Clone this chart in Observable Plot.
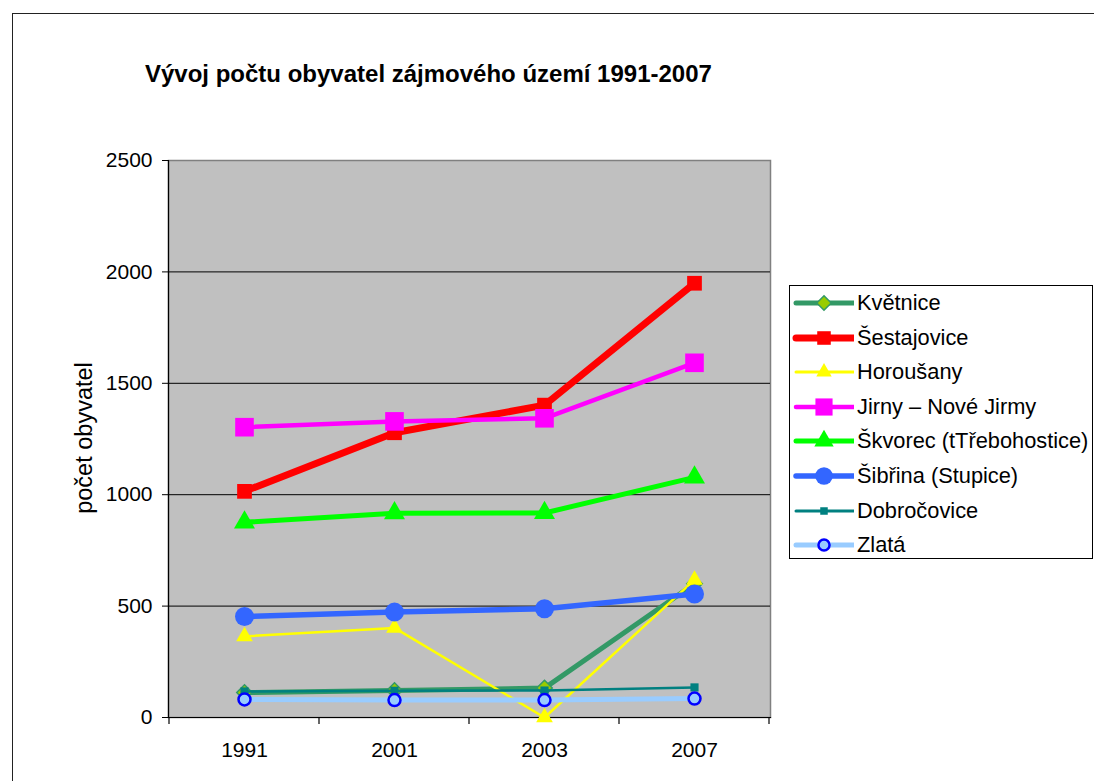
<!DOCTYPE html>
<html>
<head>
<meta charset="utf-8">
<script src="https://cdn.jsdelivr.net/npm/d3@7"></script>
<script src="https://cdn.jsdelivr.net/npm/@observablehq/plot@0.6"></script>
<style>
  body { margin: 0; background: #fff; font-family: "Liberation Sans", Arial, sans-serif; }
  #wrap { position: relative; width: 1094px; height: 781px; overflow: hidden; background: #fff; }
  #border { position: absolute; left: 12px; top: 13px; width: 1200px; height: 900px; border: 1px solid #222; box-sizing: border-box; }
  #chart { position: absolute; left: 0; top: 0; }
  #title { position: absolute; left: 145px; top: 62px; font-weight: bold; font-size: 24px; line-height: 24px; white-space: nowrap; color: #000; }
  #ylabel { position: absolute; left: 83.5px; top: 437.5px; transform: translate(-50%, -50%) rotate(-90deg); font-size: 23.5px; line-height: 23px; white-space: nowrap; color: #000; }
  #legend { position: absolute; left: 789px; top: 285px; width: 304px; height: 274px; border: 1px solid #000; box-sizing: border-box; background: #fff; }
  .row { position: absolute; left: 0; height: 34px; display: flex; align-items: center; }
  .row svg { display: block; }
  .row span { font-size: 21.8px; margin-left: 3px; white-space: nowrap; color: #000; }
</style>
</head>
<body>
<div id="wrap">
  <div id="border"></div>
  <div id="chart"></div>
  <div id="title">Vývoj počtu obyvatel zájmového území 1991-2007</div>
  <div id="ylabel">počet obyvatel</div>
  <div id="legend"></div>
</div>
<script>
// ---- data ----
const years = ["1991", "2001", "2003", "2007"];
const seriesNames = ["Květnice", "Šestajovice", "Horoušany", "Jirny – Nové Jirmy", "Škvorec (tTřebohostice)", "Šibřina (Stupice)", "Dobročovice", "Zlatá"];
const kvetnice    = [112, 121, 132, 600];
const sestajovice = [1015, 1278, 1402, 1949];
const horousany   = [364, 402, 0, 618];
const jirny       = [1303, 1329, 1343, 1592];
const skvorec     = [876, 917, 918, 1078];
const sibrina     = [453, 473, 488, 554];
const dobrocovice = [117, 120, 121, 135];
const zlata       = [81, 78, 78, 85];
const yTicks = [0, 500, 1000, 1500, 2000, 2500];

// ---- styles (kept apart from data) ----
const styles = [
  {stroke: "#339966", width: 5,   symbol: "diamond2", r: 7,   fill: "#99CC00", mstroke: "#339966", msw: 1.5},
  {stroke: "#FF0000", width: 7,   symbol: "square",   r: 8.3, fill: "#FF0000", mstroke: "none",    msw: 0},
  {stroke: "#FFFF00", width: 2.5, symbol: "triangle", r: 6.2, fill: "#FFFF00", mstroke: "none",    msw: 0},
  {stroke: "#FF00FF", width: 4.5, symbol: "square",   r: 10.5,fill: "#FF00FF", mstroke: "none",    msw: 0},
  {stroke: "#00FF00", width: 5,   symbol: "triangle", r: 7.8, fill: "#00FF00", mstroke: "none",    msw: 0},
  {stroke: "#3366FF", width: 5.5, symbol: "circle",   r: 9.5, fill: "#3366FF", mstroke: "none",    msw: 0},
  {stroke: "#008080", width: 2.5, symbol: "square",   r: 4.6, fill: "#008080", mstroke: "none",    msw: 0},
  {stroke: "#99CCFF", width: 5,   symbol: "circle",   r: 6,   fill: "#99CCFF", mstroke: "#0000FF", msw: 2.5}
];

const allValues = [kvetnice, sestajovice, horousany, jirny, skvorec, sibrina, dobrocovice, zlata];
const tables = allValues.map((vals, i) => years.map((yr, j) => ({series: seriesNames[i], year: yr, value: vals[j]})));

const marks = [
  Plot.frame({fill: "#C0C0C0", stroke: "#808080", strokeWidth: 1.5}),
  Plot.ruleY(yTicks.filter(v => v > yTicks[0] && v < yTicks[yTicks.length - 1]), {stroke: "#000", strokeWidth: 1}),
  Plot.frame({anchor: "left", stroke: "#000", strokeWidth: 1.2}),
  Plot.frame({anchor: "bottom", stroke: "#000", strokeWidth: 1.2}),
  Plot.axisY(yTicks, {tickSize: 6, tickPadding: 10, fontSize: 21, label: null, stroke: "#000", fill: "#000", tickFormat: d => String(d)}),
  Plot.axisX(years, {tickSize: 0, tickPadding: 25, fontSize: 21, label: null, fill: "#000"})
];
tables.forEach((t, i) => {
  const s = styles[i];
  marks.push(Plot.line(t, {x: "year", y: "value", stroke: s.stroke, strokeWidth: s.width, strokeLinejoin: "round", strokeLinecap: "butt"}));
  marks.push(Plot.dot(t, {x: "year", y: "value", symbol: () => s.symbol, r: s.r, fill: s.fill, stroke: s.mstroke, strokeWidth: s.msw}));
});

const chart = Plot.plot({
  width: 1094, height: 781,
  marginLeft: 168, marginRight: 324, marginTop: 160, marginBottom: 64,
  style: {fontFamily: "'Liberation Sans', Arial, sans-serif", fontSize: "21px", background: "transparent", color: "#000"},
  x: {type: "point", domain: years, padding: 0.5, axis: null},
  y: {domain: [yTicks[0], yTicks[yTicks.length - 1]], axis: null},
  marks
});
document.getElementById("chart").appendChild(chart);

// category-boundary tick marks on the x axis, derived from the x scale
const xs = chart.scale("x"), ys = chart.scale("y");
const pos = years.map(y => xs.apply(y));
const step = pos[1] - pos[0];
const bounds = pos.map(p => p - step / 2).concat([pos[pos.length - 1] + step / 2]);
const y0 = ys.apply(yTicks[0]);
const svg = d3.select(chart);
svg.append("g").selectAll("line").data(bounds).join("line")
  .attr("x1", d => d).attr("x2", d => d)
  .attr("y1", y0).attr("y2", y0 + 7)
  .attr("stroke", "#000").attr("stroke-width", 1.2);

// legend
const legend = d3.select("#legend");
const symbolMap = {circle: d3.symbolCircle, square: d3.symbolSquare, triangle: d3.symbolTriangle, diamond2: d3.symbolDiamond2};
seriesNames.forEach((name, i) => {
  const s = styles[i];
  const row = legend.append("div").attr("class", "row").style("top", (i * 34.6) + "px");
  const sv = row.append("svg").attr("width", 64).attr("height", 34);
  sv.append("line").attr("x1", 6).attr("x2", 64).attr("y1", 17).attr("y2", 17)
    .attr("stroke", s.stroke).attr("stroke-width", Math.max(s.width, 3)).attr("stroke-linecap", "round");
  sv.append("path").attr("transform", "translate(34,17)")
    .attr("d", d3.symbol(symbolMap[s.symbol], Math.PI * s.r * s.r * 0.85)())
    .attr("fill", s.fill).attr("stroke", s.mstroke).attr("stroke-width", s.msw);
  row.append("span").text(name);
});
</script>
</body>
</html>
